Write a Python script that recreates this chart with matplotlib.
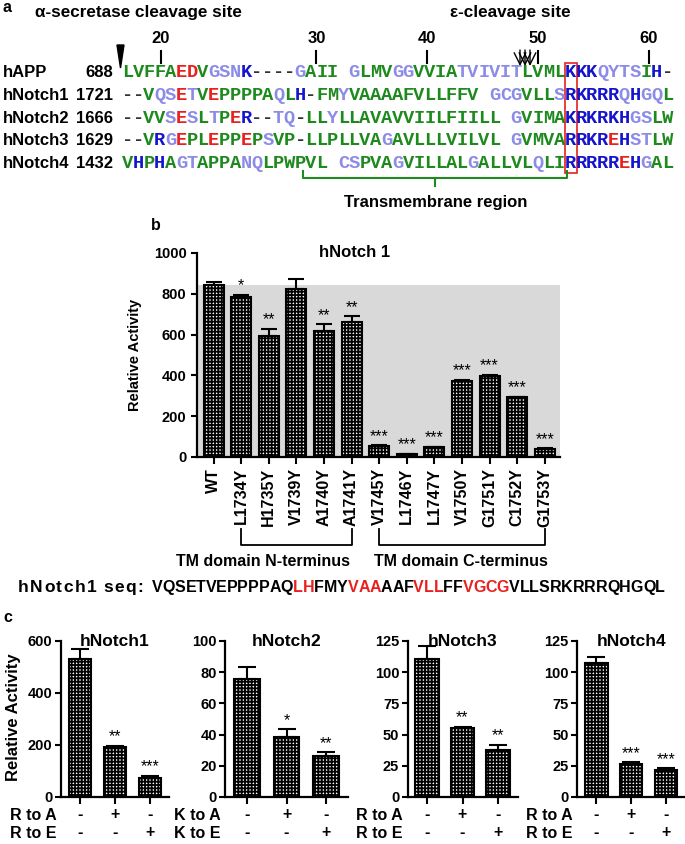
import matplotlib.pyplot as plt
from matplotlib.patches import Rectangle, Polygon
from matplotlib.font_manager import FontProperties

plt.rcParams['font.family'] = ['Liberation Sans', 'DejaVu Sans']
plt.rcParams['font.weight'] = 'bold'
plt.rcParams['hatch.linewidth'] = 1.3

W, H = 685, 844

# ---- panel a: alignment, each row is a list of (letters, colour code) ----
ALIGN_NAMES = ["hAPP", "hNotch1", "hNotch2", "hNotch3", "hNotch4"]
ALIGN_START = ["688", "1721", "1666", "1629", "1432"]
ALIGN_ROWS = [
    [("LVFFA", "g"), ("ED", "r"), ("V", "g"), ("GSN", "l"), ("K", "b"), ("----", "k"),
     ("G", "l"), ("AII", "g"), (" ", ""), ("G", "l"), ("LMV", "g"), ("GG", "l"),
     ("VVIA", "g"), ("TVIVI", "l"), ("T", "l"), ("LVML", "g"), ("KKK", "b"),
     ("QYTS", "l"), ("I", "g"), ("H", "b"), ("-", "k")],
    [("--", "k"), ("V", "g"), ("QS", "l"), ("E", "r"), ("T", "l"), ("V", "g"), ("E", "r"),
     ("PPPPA", "g"), ("Q", "l"), ("L", "g"), ("H", "b"), ("-", "k"), ("FM", "g"), ("Y", "l"),
     ("VAAAAFVLLFFV", "g"), (" ", ""), ("GCG", "l"), ("VLL", "g"), ("S", "l"),
     ("RKRRR", "b"), ("Q", "l"), ("H", "b"), ("GQ", "l"), ("L", "g")],
    [("--", "k"), ("VV", "g"), ("S", "l"), ("E", "r"), ("S", "l"), ("L", "g"), ("T", "l"),
     ("P", "g"), ("E", "r"), ("R", "b"), ("--", "k"), ("TQ", "l"), ("-", "k"), ("LL", "g"),
     ("Y", "l"), ("LLAVAVVIILFIILL", "g"), (" ", ""), ("G", "l"), ("VIMA", "g"),
     ("KRKRKH", "b"), ("GS", "l"), ("LW", "g")],
    [("--", "k"), ("V", "g"), ("R", "b"), ("G", "l"), ("E", "r"), ("PL", "g"), ("E", "r"),
     ("PP", "g"), ("E", "r"), ("P", "g"), ("S", "l"), ("VP", "g"), ("-", "k"),
     ("LLPLLVA", "g"), ("G", "l"), ("AVLLLVILVL", "g"), (" ", ""), ("G", "l"),
     ("VMVA", "g"), ("RRKR", "b"), ("E", "r"), ("H", "b"), ("ST", "l"), ("LW", "g")],
    [("V", "g"), ("H", "b"), ("P", "g"), ("H", "b"), ("A", "g"), ("GT", "l"), ("APPA", "g"),
     ("NQ", "l"), ("LPWPVL", "g"), (" ", ""), ("CS", "l"), ("PVA", "g"), ("G", "l"),
     ("VILLAL", "g"), ("G", "l"), ("ALLVL", "g"), ("Q", "l"), ("LI", "g"), ("RRRRR", "b"),
     ("E", "r"), ("H", "b"), ("G", "l"), ("AL", "g")],
]
RULER_LABELS = ["20", "30", "40", "50", "60"]
RULER_COLS = [3.6, 18.0, 28.2, 38.5, 48.8]
BOX_COL = 41
TM_COLS = (16.8, 41.2)

# ---- panel b ----
B_MUTANTS = ["WT", "L1734Y", "H1735Y", "V1739Y", "A1740Y", "A1741Y", "V1745Y",
             "L1746Y", "L1747Y", "V1750Y", "G1751Y", "C1752Y", "G1753Y"]
B_ACTIVITY = [843, 783, 593, 822, 619, 660, 54, 14, 48, 374, 397, 293, 39]
B_ERR = [16, 11, 36, 49, 31, 31, 3, 2, 2, 4, 5, 3, 3]
B_SIG = ["", "*", "**", "", "**", "**", "***", "***", "***", "***", "***", "***", "***"]
B_GROUPS = [("TM domain N-terminus", 1, 5, 1.79), ("TM domain C-terminus", 6, 12, 8.96)]
N1_SEQ = "VQSETVEPPPPAQLHFMYVAAAAFVLLFFVGCGVLLSRKRRRQHGQL"
N1_FIRST = 1721

# ---- panel c ----
C_TITLES = ["hNotch1", "hNotch2", "hNotch3", "hNotch4"]
C_MEANS = [[530, 193, 72], [75.6, 38.7, 26.3], [110.3, 55, 37.7], [107, 26.4, 21.6]]
C_ERRS = [[39, 5, 9], [8, 4.6, 2.3], [10.7, 1.3, 4], [5.4, 1.4, 1.4]]
C_SIG = [["", "**", "***"], ["", "*", "**"], ["", "**", "**"], ["", "***", "***"]]
C_YTICKS = [[0, 200, 400, 600], [0, 20, 40, 60, 80, 100],
            [0, 25, 50, 75, 100, 125], [0, 25, 50, 75, 100, 125]]
C_ROWLABELS = [("R to A", "R to E"), ("K to A", "K to E"),
               ("R to A", "R to E"), ("R to A", "R to E")]
C_SIGN_A = ["-", "+", "-"]
C_SIGN_E = ["-", "-", "+"]

AA_COLORS = {"g": "#1e8a1e", "r": "#e8201e", "l": "#8c8ce8", "b": "#1414cc", "k": "#333333"}
RED = '#e8201e'

fig = plt.figure(figsize=(W / 100, H / 100), dpi=100)
renderer = fig.canvas.get_renderer()


def px_axes(left, top, right, bottom):
    return fig.add_axes([left / W, 1 - bottom / H, (right - left) / W, (bottom - top) / H])


def advance(c, prop):
    # glyph advance = width("cc") - width("c"), works for spaces too
    w = lambda s: renderer.get_text_width_height_descent(s, prop, ismath=False)[0]
    if c == " ":
        return w("a a") - w("aa")
    return w(c + c) - w(c)


def tracked_text(x0, x1, y, text, fs, colors):
    # letters spread evenly between x0 and x1 (letter-spaced line)
    prop = FontProperties(family='Liberation Sans', weight='bold', size=fs)
    widths = [advance(c, prop) for c in text]
    track = (x1 - x0 - sum(widths)) / (len(text) - 1)
    x = x0
    for c, w, col in zip(text, widths, colors):
        if c != " ":
            ov.text(x, y, c, ha='left', fontsize=fs, color=col)
        x += w + track


ov = fig.add_axes([0, 0, 1, 1])
ov.set_xlim(0, W)
ov.set_ylim(H, 0)
ov.axis('off')

# ---------------- panel a ----------------
COL0, CW = 122, 10.8
ov.text(3, 12, "a", fontsize=11.5)
ov.text(35, 17, "α-secretase cleavage site", fontsize=12.3)
ov.text(510, 17, "ε-cleavage site", fontsize=12.3, ha='center')

for lab, col in zip(RULER_LABELS, RULER_COLS):
    xc = COL0 + col * CW
    ov.text(xc, 43, lab, ha='center', fontsize=12)
    ov.plot([xc, xc], [51, 63], color='black', lw=1.5)

ov.add_patch(Polygon([[117, 45], [124, 45], [120.5, 68]], closed=True, color='black'))
for xa in [520, 525, 530]:
    ov.annotate("", xy=(xa, 66), xytext=(xa, 50),
                arrowprops=dict(arrowstyle='->,head_length=0.7,head_width=0.35', lw=1.0,
                                color='black', mutation_scale=12, shrinkA=0, shrinkB=0))

for r, segs in enumerate(ALIGN_ROWS):
    yb = 77 + 22.8 * r
    ov.text(3, yb, ALIGN_NAMES[r], fontsize=12)
    ov.text(113, yb, ALIGN_START[r], fontsize=12, ha='right')
    i = 0
    for letters, code in segs:
        for ch in letters:
            if ch != " ":
                ov.text(COL0 + (i + 0.5) * CW, yb, ch, ha='center', color=AA_COLORS[code],
                        family='Liberation Mono', fontsize=13.5)
            i += 1

ov.add_patch(Rectangle((COL0 + BOX_COL * CW, 63), CW + 1, 110, fill=False,
                       edgecolor=RED, lw=1.2))

tm_l, tm_r = COL0 + TM_COLS[0] * CW, COL0 + TM_COLS[1] * CW
tm_c = (tm_l + tm_r) / 2
ov.plot([tm_l, tm_l, tm_r, tm_r], [171, 178, 178, 171], color='#1e8a1e', lw=1.5)
ov.plot([tm_c, tm_c], [178, 186], color='#1e8a1e', lw=1.5)
ov.text(tm_c, 207, "Transmembrane region", ha='center', fontsize=12)

# ---------------- panel b ----------------
ov.text(151, 230, "b", fontsize=11.5)
ax_b = px_axes(197, 253, 560, 457)
xb = list(range(len(B_MUTANTS)))
ax_b.axhspan(0, B_ACTIVITY[0], color='#d9d9d9', zorder=0, lw=0)
ax_b.bar(xb, B_ACTIVITY, width=0.72, color='white', edgecolor='black', linewidth=1.5,
         hatch='+++++', zorder=2)
ax_b.errorbar(xb, B_ACTIVITY, yerr=[[0] * len(xb), B_ERR], fmt='none', ecolor='black',
              elinewidth=1.5, capsize=6, capthick=1.5, zorder=1)
for i, s in enumerate(B_SIG):
    if s:
        ax_b.annotate(s, (i, B_ACTIVITY[i] + B_ERR[i]), xytext=(0, 1), textcoords='offset points',
                      ha='center', va='bottom', fontsize=11.5, fontweight='normal')
ax_b.set_xlim(-0.6, 12.55)
ax_b.set_ylim(0, 1000)
ax_b.set_yticks([0, 200, 400, 600, 800, 1000])
ax_b.set_xticks(xb)
ax_b.set_xticklabels(B_MUTANTS, rotation=90, fontsize=11.5)
ax_b.tick_params(axis='y', labelsize=10.5, width=1.5, length=4)
ax_b.tick_params(axis='x', width=1.5, length=5, pad=3)
for sp in ['top', 'right']:
    ax_b.spines[sp].set_visible(False)
for sp in ['left', 'bottom']:
    ax_b.spines[sp].set_linewidth(1.6)
ax_b.text(0.435, 1.0, "hNotch 1", transform=ax_b.transAxes, ha='center', va='center', fontsize=12)
ov.text(135, 355, "Relative Activity", rotation=90, ha='center', va='center', fontsize=10.5)

tb = ax_b.get_xaxis_transform()
for label, i0, i1, xt in B_GROUPS:
    yt, yh = (457 - 529) / 204, (457 - 545) / 204
    ax_b.plot([i0, i0, i1, i1], [yt, yh, yh, yt], color='black', lw=1.3, transform=tb, clip_on=False)
    ax_b.text(xt, (457 - 566) / 204, label, transform=tb, ha='center', va='baseline', fontsize=11.5)

# hNotch1 sequence line, mutated residues in red
mutated = [int(m[1:-1]) - N1_FIRST for m in B_MUTANTS[1:]]
tracked_text(18, 143, 592, "hNotch1 seq:", 12.5, ['black'] * 12)
tracked_text(152, 665, 592, N1_SEQ, 11.5,
             [RED if k in mutated else 'black' for k in range(len(N1_SEQ))])

# ---------------- panel c ----------------
ov.text(3, 622, "c", fontsize=11.5)
ov.text(14, 717, "Relative Activity", rotation=90, ha='center', va='center', fontsize=12)
C_LEFT = [60.75, 225.3, 407.5, 577.2]
C_WIDTH = [108.5, 122.5, 110, 107.8]
for j in range(4):
    ax = px_axes(C_LEFT[j], 641, C_LEFT[j] + C_WIDTH[j], 797)
    xc = [0, 1, 2]
    ax.bar(xc, C_MEANS[j], width=0.65, color='white', edgecolor='black', linewidth=1.5,
           hatch='+++++', zorder=2)
    ax.errorbar(xc, C_MEANS[j], yerr=[[0, 0, 0], C_ERRS[j]], fmt='none', ecolor='black',
                elinewidth=1.5, capsize=6.5, capthick=1.5, zorder=1)
    for i, s in enumerate(C_SIG[j]):
        if s:
            ax.annotate(s, (i, C_MEANS[j][i] + C_ERRS[j][i]), xytext=(0, 1),
                        textcoords='offset points', ha='center', va='bottom',
                        fontsize=11.5, fontweight='normal')
    ax.set_xlim(-0.55, 2.55)
    ax.set_ylim(0, C_YTICKS[j][-1])
    ax.set_yticks(C_YTICKS[j])
    ax.set_xticks(xc)
    ax.set_xticklabels([])
    ax.tick_params(axis='y', labelsize=10.5, width=1.5, length=4, pad=2)
    ax.tick_params(axis='x', width=1.5, length=5)
    for sp in ['top', 'right']:
        ax.spines[sp].set_visible(False)
    for sp in ['left', 'bottom']:
        ax.spines[sp].set_linewidth(1.6)
    tx = ax.get_xaxis_transform()
    ax.text(1, 1.0, C_TITLES[j], transform=tx, ha='center', va='center', fontsize=12.5)
    ya, ye = (797 - 815) / 156, (797 - 833) / 156
    ax.text(-0.68, ya, C_ROWLABELS[j][0], transform=tx, ha='right', va='center', fontsize=11.5)
    ax.text(-0.68, ye, C_ROWLABELS[j][1], transform=tx, ha='right', va='center', fontsize=11.5)
    for i in xc:
        ax.text(i, ya, C_SIGN_A[i], transform=tx, ha='center', va='center', fontsize=11.5)
        ax.text(i, ye, C_SIGN_E[i], transform=tx, ha='center', va='center', fontsize=11.5)

fig.savefig("out.png", dpi=100)
